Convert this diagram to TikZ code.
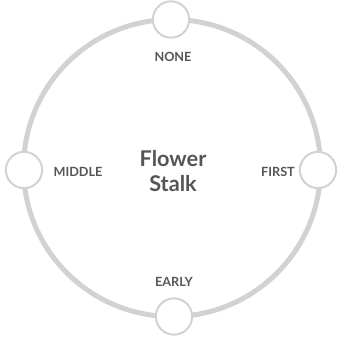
\documentclass[tikz,border=0pt]{standalone}
\usepackage{fontspec}
\setmainfont{Lato}[BoldFont={Lato Bold}]
\usepackage{tikz}
\definecolor{ringgray}{HTML}{D2D2D2}
\definecolor{textgray}{HTML}{555555}
\tikzset{
  stage/.style={circle, draw=ringgray, line width=1.7pt, fill=white, minimum size=31pt, inner sep=0pt},
  stagelabel/.style={text=textgray, font=\bfseries\fontsize{10.8}{13}\selectfont},
}
\begin{document}
\begin{tikzpicture}[x=0.03cm, y=-0.03cm]
                \useasboundingbox (0,0) rectangle (337,339);
                \draw[ringgray, line width=4.3pt] (172,168) circle (148.5);
                \node[stage] (none) at (171,19.5) {};
                \node[stage] (early) at (174,316.5) {};
                \node[stage] (middle) at (24,170) {};
                \node[stage] (first) at (318,170) {};
                \node[stagelabel] (nonelabel) at (173,57) {NONE};
                \node[stagelabel] (earlylabel) at (174,282) {EARLY};
                \node[stagelabel] (middlelabel) at (78,171.5) {MIDDLE};
                \node[stagelabel] (firstlabel) at (278,172) {FIRST};
                \node[text=textgray, font=\bfseries\fontsize{18.5}{22}\selectfont, align=center] (stalk) at (173,171) {Flower\\Stalk};
            \end{tikzpicture}
\end{document}
